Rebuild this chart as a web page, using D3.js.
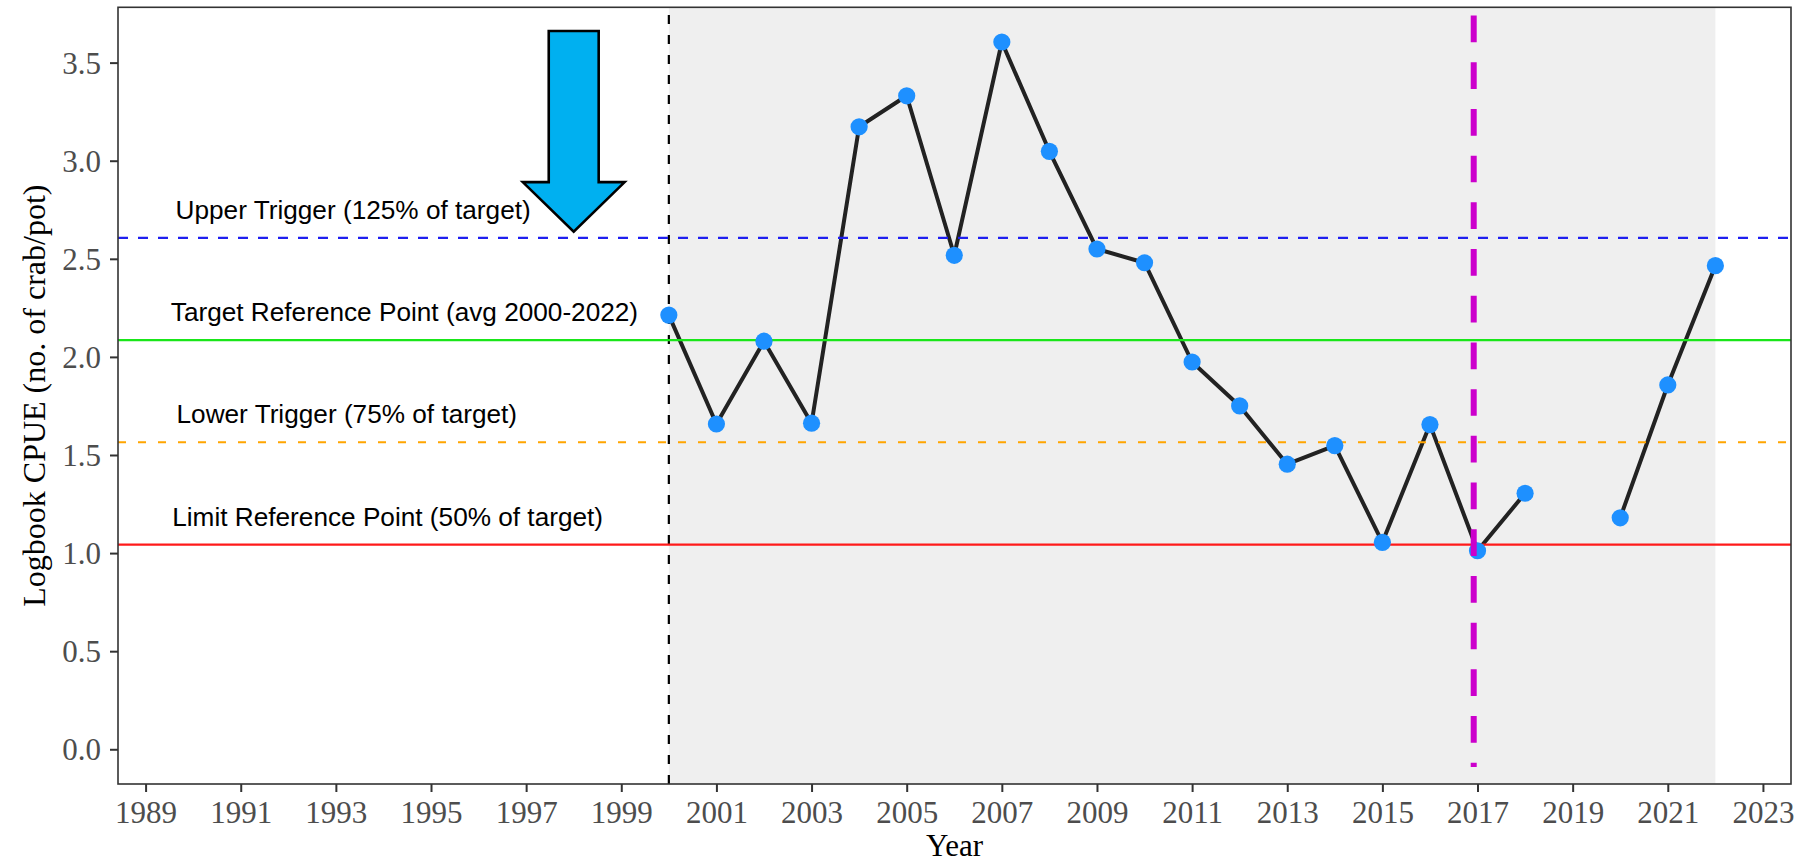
<!DOCTYPE html>
<html><head><meta charset="utf-8">
<script src="https://cdn.jsdelivr.net/npm/d3@7/dist/d3.min.js"></script>
<style>body{margin:0;background:#fff}svg{display:block}</style>
</head><body><svg id="c" width="1808" height="862"></svg>
<script>
// ---- data ----
const years = [2000,2001,2002,2003,2004,2005,2006,2007,2008,2009,2010,2011,2012,2013,2014,2015,2016,2017,2018,2019,2020,2021,2022];
const cpue  = [2.213,1.658,2.080,1.662,3.173,3.331,2.518,3.605,3.048,2.550,2.480,1.974,1.750,1.453,1.548,1.055,1.655,1.012,1.305,null,1.180,1.857,2.465];
const xTickValues = d3.range(1989, 2024, 2);
const yTickValues = [0, 0.5, 1.0, 1.5, 2.0, 2.5, 3.0, 3.5];
const refNames  = ["Upper Trigger (125% of target)", "Target Reference Point (avg 2000-2022)", "Lower Trigger (75% of target)", "Limit Reference Point (50% of target)"];
const refValues = [2.607, 2.086, 1.565, 1.043];
const refColors = ["#1f1fef", "#19e619", "#ffa500", "#ff1a1a"];
const refDashes = ["10,10", null, "8,12", null];
const refLabelYears = [1989.63, 1989.53, 1989.65, 1989.56];
const shadeYears = [2000, 2022];
const startYear = 2000;
const assessYear = 2016.92;
const assessSpan = [3.74, -0.09];
const arrowYear = 1998;
const arrowLevels = [3.661, 2.891, 2.638];   // shaft top, head top, tip
const arrowHalfWidths = [0.525, 1.07];       // shaft, head (years)

// ---- layout ----
const svg = d3.select("#c");
const L = 118, R = 1791, T = 7.3, B = 784;
const x = d3.scaleLinear().domain([1988.42, 2023.59]).range([L, R]);
const y = d3.scaleLinear().domain([-0.177, 3.782]).range([B, T]);

svg.append("clipPath").attr("id", "pclip").append("rect")
  .attr("x", L).attr("y", T).attr("width", R - L).attr("height", B - T);
const panel = svg.append("g").attr("clip-path", "url(#pclip)");

// shaded period
panel.append("rect")
  .attr("x", x(shadeYears[0])).attr("width", x(shadeYears[1]) - x(shadeYears[0]))
  .attr("y", T).attr("height", B - T).attr("fill", "#efefef");

// start year dashed vline (drawn from bottom)
panel.append("line")
  .attr("x1", x(startYear)).attr("x2", x(startYear))
  .attr("y1", B).attr("y2", T)
  .attr("stroke", "#000").attr("stroke-width", 2.2).attr("stroke-dasharray", "9,11");

// series line
const pts = years.map((yr, i) => ({year: yr, v: cpue[i]}));
const line = d3.line().defined(d => d.v != null).x(d => x(d.year)).y(d => y(d.v));
panel.append("path").datum(pts).attr("d", line)
  .attr("fill", "none").attr("stroke", "#222").attr("stroke-width", 4).attr("stroke-linejoin", "round");

// reference lines
refValues.forEach((v, i) => {
  panel.append("line")
    .attr("x1", L).attr("x2", R).attr("y1", y(v)).attr("y2", y(v))
    .attr("stroke", refColors[i]).attr("stroke-width", 2.2)
    .attr("stroke-dasharray", refDashes[i]);
});

// points
panel.selectAll("circle.pt").data(pts.filter(d => d.v != null)).join("circle")
  .attr("class", "pt")
  .attr("cx", d => x(d.year)).attr("cy", d => y(d.v)).attr("r", 8.6)
  .attr("fill", "#1e90ff");

// assessment vline
panel.append("line")
  .attr("x1", x(assessYear)).attr("x2", x(assessYear))
  .attr("y1", y(assessSpan[0])).attr("y2", y(assessSpan[1]))
  .attr("stroke", "#cc00cc").attr("stroke-width", 6).attr("stroke-dasharray", "26.7,20");

// labels
refNames.forEach((t, i) => {
  svg.append("text")
    .attr("x", x(refLabelYears[i])).attr("y", y(refValues[i] + 0.097))
    .attr("font-family", "Liberation Sans, Arial, sans-serif").attr("font-size", 26.2)
    .attr("fill", "#000").text(t);
});

// arrow
const ax = arrowYear, [sTop, hTop, tip] = arrowLevels, [sw, hw] = arrowHalfWidths;
const arrowPts = [[ax - sw, sTop], [ax + sw, sTop], [ax + sw, hTop], [ax + hw, hTop], [ax, tip], [ax - hw, hTop], [ax - sw, hTop]];
svg.append("path")
  .attr("d", "M" + arrowPts.map(p => [x(p[0]), y(p[1])].join(",")).join("L") + "Z")
  .attr("fill", "#00b0f0").attr("stroke", "#000").attr("stroke-width", 2.6).attr("stroke-linejoin", "miter");

// panel border
svg.append("rect").attr("x", L).attr("y", T).attr("width", R - L).attr("height", B - T)
  .attr("fill", "none").attr("stroke", "#333").attr("stroke-width", 1.6);

// axes
const xAxis = d3.axisBottom(x).tickValues(xTickValues).tickFormat(d3.format("d")).tickSize(8).tickPadding(6);
const gx = svg.append("g").attr("transform", `translate(0,${B})`).call(xAxis);
const yAxis = d3.axisLeft(y).tickValues(yTickValues).tickFormat(d3.format(".1f")).tickSize(8).tickPadding(9);
const gy = svg.append("g").attr("transform", `translate(${L},0)`).call(yAxis);
[gx, gy].forEach(g => {
  g.select(".domain").remove();
  g.selectAll(".tick line").attr("stroke", "#333").attr("stroke-width", 2);
  g.selectAll(".tick text").attr("fill", "#4d4d4d")
    .attr("font-family", "Liberation Serif, Times New Roman, serif").attr("font-size", 31);
});
gx.selectAll(".tick text").attr("dy", null).attr("y", 38.5);
gy.selectAll(".tick text").attr("dy", "0.34em");

// titles
svg.append("text").attr("x", (L + R) / 2).attr("y", 856).attr("text-anchor", "middle")
  .attr("font-family", "Liberation Serif, Times New Roman, serif").attr("font-size", 31).attr("fill", "#000")
  .text("Year");
svg.append("text").attr("transform", `translate(44.6,${(T + B) / 2}) rotate(-90)`).attr("text-anchor", "middle")
  .attr("font-family", "Liberation Serif, Times New Roman, serif").attr("font-size", 32).attr("fill", "#000")
  .text("Logbook CPUE (no. of crab/pot)");
</script></body></html>
